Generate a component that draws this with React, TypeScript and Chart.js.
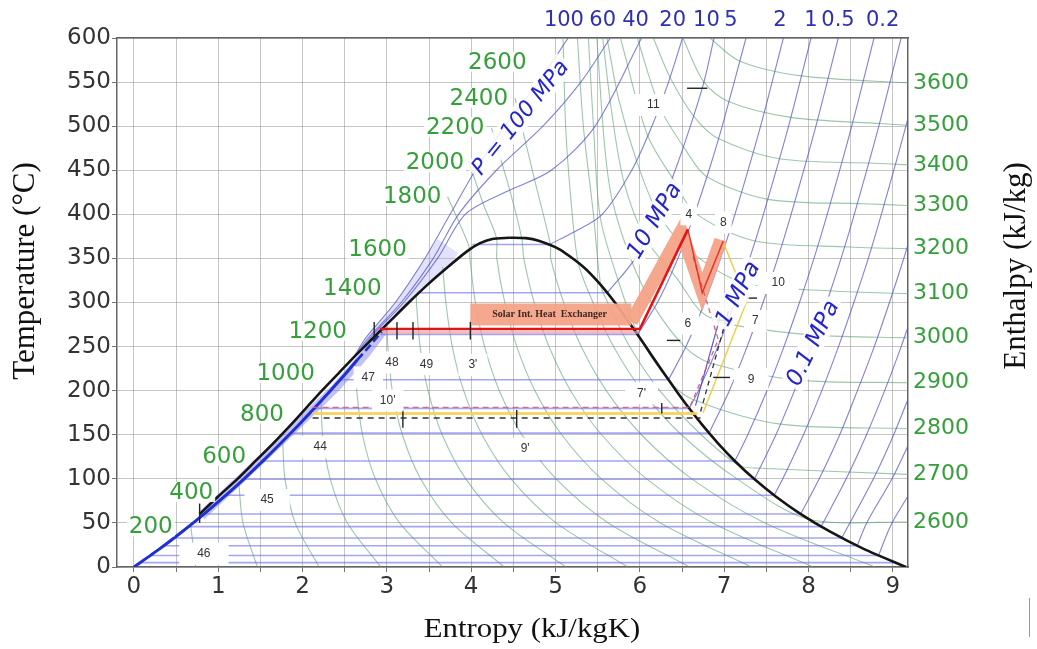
import React, { useEffect, useRef } from "react";
import { Chart, registerables } from "chart.js";

Chart.register(...registerables);

type Pt = [number, number];

// ---------- axes ----------
const entropyMin = -0.2;
const entropyMax = 9.18;
const tempMin = 0;
const tempMax = 600;
const entropyGridTicks = [0, 0.5, 1, 1.5, 2, 2.5, 3, 3.5, 4, 4.5, 5, 5.5, 6, 6.5, 7, 7.5, 8, 8.5, 9];
const enthalpyRightLabels = ["2600", "2700", "2800", "2900", "3000", "3100", "3200", "3300", "3400", "3500", "3600"];
const enthalpyRightT = [51, 105, 157, 209, 260, 310, 361, 410, 456, 501, 549];
const pressureTopLabels = ["100", "60", "40", "20", "10", "5", "2", "1", "0.5", "0.2"];
const pressureTopEntropy = [5.1, 5.56, 5.95, 6.39, 6.79, 7.08, 7.66, 8.03, 8.35, 8.88];

// ---------- saturation dome ----------
const domeLiquid: Pt[] = [[0.78, 60], [1.0, 80], [1.23, 100], [1.44, 120], [1.65, 140], [1.85, 160], [2.04, 180], [2.23, 200], [2.43, 220], [2.63, 240], [2.84, 260], [3.05, 280], [3.26, 300], [3.48, 320], [3.72, 340], [3.95, 358], [4.1, 367], [4.25, 372], [4.45, 373.5]];
const domeVapor: Pt[] = [[4.45, 373.5], [4.65, 373], [4.8, 370], [5.053, 360], [5.335, 340], [5.536, 320], [5.704, 300], [5.854, 280], [5.999, 260], [6.141, 240], [6.284, 220], [6.431, 200], [6.585, 180], [6.75, 160], [6.93, 140], [7.129, 120], [7.354, 100], [7.612, 80], [7.909, 60], [8.257, 40], [8.666, 20], [9.156, 0]];
const liquidBlue: Pt[] = [[0, 0], [0.297, 20], [0.572, 40], [0.831, 60], [1.075, 80], [1.307, 100], [1.528, 120], [1.739, 140], [1.943, 160], [2.14, 180], [2.331, 200], [2.518, 220], [2.65, 235]];
const liquidBlueDashed: Pt[] = [[2.65, 235], [2.79, 250], [2.94, 267]];
const liquidBand: Pt[] = [[0.8, 58], [1.27, 100], [1.84, 152], [2.38, 202], [2.75, 242], [2.97, 270]];
const compressedShade: Pt[] = [[2.62, 240], [2.75, 260], [3.1, 300], [3.45, 350], [3.6, 372], [3.85, 356], [3.72, 340], [3.48, 320], [3.26, 300], [3.05, 280], [2.84, 260], [2.63, 240]];

// ---------- wet-region isobars (T sat, s liquid, s vapour) ----------
const wetTemps = [5, 13, 24.1, 32.9, 45.8, 60.1, 81.3, 99.6, 120.2, 151.8, 179.9, 212.4, 263.9, 311.0, 365.8];
const wetSf = [0.076, 0.19, 0.35, 0.476, 0.649, 0.832, 1.091, 1.303, 1.53, 1.861, 2.139, 2.447, 2.921, 3.36, 4.014];
const wetSg = [9.025, 8.83, 8.578, 8.394, 8.149, 7.907, 7.593, 7.359, 7.127, 6.821, 6.586, 6.34, 5.973, 5.614, 4.927];

// ---------- superheated / supercritical isobars ----------
const isobar100: Pt[] = [[2.62, 240], [2.75, 260], [3.1, 300], [3.45, 350], [3.75, 400], [4.05, 450], [4.4, 500], [4.8, 550], [5.15, 600]];
const isobar60: Pt[] = [[2.66, 245], [2.8, 262], [3.17, 300], [3.55, 350], [3.85, 400], [4.3, 450], [4.85, 500], [5.3, 550], [5.65, 600]];
const isobar40: Pt[] = [[2.7, 248], [2.85, 265], [3.2, 300], [3.6, 350], [3.93, 400], [4.4, 425], [4.95, 450], [5.47, 500], [6.02, 600]];
const isobar20: Pt[] = [[4.927, 365.8], [5.22, 380], [5.554, 400], [5.904, 450], [6.143, 500], [6.34, 550], [6.506, 600]];
const isobar10: Pt[] = [[5.614, 311], [5.946, 350], [6.212, 400], [6.419, 450], [6.599, 500], [6.76, 550], [6.88, 600]];
const isobar5: Pt[] = [[5.973, 263.9], [6.209, 300], [6.451, 350], [6.647, 400], [6.82, 450], [6.977, 500], [7.259, 600]];
const isobar2: Pt[] = [[6.34, 212.4], [6.547, 250], [6.768, 300], [6.957, 350], [7.128, 400], [7.432, 500], [7.702, 600]];
const isobar1: Pt[] = [[6.586, 179.9], [6.695, 200], [6.926, 250], [7.124, 300], [7.302, 350], [7.465, 400], [7.764, 500], [8.03, 600]];
const isobar05: Pt[] = [[6.821, 151.8], [7.061, 200], [7.272, 250], [7.461, 300], [7.635, 350], [7.794, 400], [8.088, 500], [8.353, 600]];
const isobar02: Pt[] = [[7.127, 120.2], [7.28, 150], [7.507, 200], [7.709, 250], [7.893, 300], [8.065, 350], [8.222, 400], [8.513, 500], [8.777, 600]];
const isobar01: Pt[] = [[7.359, 99.6], [7.614, 150], [7.834, 200], [8.033, 250], [8.216, 300], [8.386, 350], [8.543, 400], [8.834, 500], [9.098, 600]];
const isobar005: Pt[] = [[7.593, 81.3], [7.695, 100], [7.94, 150], [8.158, 200], [8.356, 250], [8.538, 300], [8.709, 350], [8.864, 400], [9.155, 500], [9.42, 600]];
const isobar002: Pt[] = [[7.907, 60.1], [8.127, 100], [8.37, 150], [8.58, 200], [8.78, 250], [8.96, 300], [9.13, 350], [9.29, 400]];
const isobar001: Pt[] = [[8.149, 45.8], [8.447, 100], [8.688, 150], [8.903, 200], [9.099, 250], [9.28, 300]];
const isobar0005: Pt[] = [[8.394, 32.9], [8.77, 100], [9.01, 150], [9.22, 200]];
const isobar0003: Pt[] = [[8.578, 24.1], [8.69, 50], [8.99, 100], [9.24, 150]];
const isobar00015: Pt[] = [[8.83, 13], [8.99, 50], [9.31, 100]];

// ---------- isenthalps ----------
const h200: Pt[] = [[0.674, 47.7], [0.732, 0]];
const h400: Pt[] = [[1.244, 95.5], [1.294, 50], [1.465, 0]];
const h600: Pt[] = [[1.765, 142.5], [1.792, 100], [1.913, 50], [2.197, 0]];
const h800: Pt[] = [[2.219, 188.3], [2.238, 150], [2.328, 100], [2.532, 50], [2.929, 0]];
const h1000: Pt[] = [[2.629, 232], [2.643, 200], [2.711, 150], [2.864, 100], [3.151, 50], [3.661, 0]];
const h1200: Pt[] = [[3.004, 272.9], [3.012, 250], [3.065, 200], [3.184, 150], [3.4, 100], [3.77, 50], [4.393, 0]];
const h1400: Pt[] = [[3.35, 309.5], [3.351, 300], [3.394, 250], [3.488, 200], [3.656, 150], [3.936, 100], [4.388, 50], [5.125, 0]];
const h1600: Pt[] = [[3.662, 340.3], [3.7, 300], [3.776, 250], [3.911, 200], [4.129, 150], [4.472, 100], [5.007, 50], [5.857, 0]];
const h1800: Pt[] = [[3.72, 420], [3.86, 390], [3.976, 363], [3.985, 350], [4.049, 300], [4.159, 250], [4.334, 200], [4.602, 150], [5.007, 100], [5.626, 50], [6.59, 0]];
const h2000: Pt[] = [[3.97, 460], [4.15, 410], [4.3, 373.3], [4.304, 350], [4.398, 300], [4.541, 250], [4.756, 200], [5.074, 150], [5.544, 100], [6.245, 50], [7.322, 0]];
const h2200: Pt[] = [[4.24, 498], [4.45, 430], [4.6, 372.7], [4.624, 350], [4.747, 300], [4.923, 250], [5.179, 200], [5.547, 150], [6.08, 100], [6.864, 50], [8.054, 0]];
const h2400: Pt[] = [[4.52, 532], [4.75, 440], [4.94, 365.5], [4.943, 350], [5.096, 300], [5.305, 250], [5.602, 200], [6.019, 150], [6.616, 100], [7.483, 50], [8.786, 0]];
const h2600: Pt[] = [[5.09, 600], [5.12, 500], [5.18, 420], [5.27, 345], [5.445, 300], [5.688, 250], [6.025, 200], [6.493, 150], [7.152, 100], [7.99, 54.5], [9.2, 51]];
const h2700: Pt[] = [[5.26, 600], [5.33, 500], [5.45, 400], [5.536, 320], [5.619, 300], [5.879, 250], [6.236, 200], [6.728, 150], [7.18, 115], [7.43, 112], [9.2, 105]];
const h2800: Pt[] = [[5.39, 600], [5.45, 500], [5.53, 397], [5.74, 326], [5.98, 264], [6.34, 212], [6.63, 190], [7.67, 162], [9.2, 157]];
const h2900: Pt[] = [[5.49, 600], [5.58, 480], [5.67, 417], [5.91, 345], [6.17, 295], [6.54, 249], [6.84, 231], [7.88, 212], [9.2, 209]];
const h3000: Pt[] = [[5.56, 600], [5.66, 520], [5.81, 437], [6.07, 372], [6.45, 326], [6.72, 290], [7.03, 276], [8.08, 263], [9.2, 260]];
const h3100: Pt[] = [[5.61, 600], [5.75, 530], [5.96, 461], [6.21, 402], [6.55, 362], [7.21, 323], [8.29, 313], [9.2, 310]];
const h3200: Pt[] = [[5.77, 600], [6.09, 490], [6.42, 436], [6.65, 402], [7.35, 370], [8.49, 363], [9.2, 361]];
const h3300: Pt[] = [[5.97, 600], [6.24, 521], [6.55, 472], [6.79, 443], [7.52, 417], [8.65, 412], [9.2, 410]];
const h3400: Pt[] = [[6.16, 600], [6.36, 555], [6.65, 510], [6.93, 486], [7.66, 463], [8.78, 458], [9.2, 456]];
const h3500: Pt[] = [[6.51, 600], [6.76, 550], [7.05, 528], [7.79, 510], [8.85, 503], [9.2, 501]];
const h3600: Pt[] = [[6.83, 600], [7.18, 574], [7.92, 557], [9.2, 549]];

// ---------- cycle ----------
const redCycle: Pt[] = [[2.92, 270], [6.0, 270], [6.57, 383]];
const redThin: Pt[] = [[6.57, 383], [6.74, 311], [6.99, 370]];
const salmonBox: Pt[] = [[3.99, 286.5], [5.9, 286.5]];
const salmonBand: Pt[] = [[5.9, 278], [6.49, 381], [6.74, 312], [6.96, 371]];
const yellowPath: Pt[] = [[6.99, 368], [7.27, 302], [6.75, 175]];
const pinkDashedPath: Pt[] = [[6.63, 352], [6.93, 258], [6.6, 183]];
const blueThinPath: Pt[] = [[6.97, 290], [6.66, 183]];
const blackDashedPath: Pt[] = [[7.05, 290], [6.72, 176]];
const pinkDashedLevel: Pt[] = [[2.12, 181], [6.62, 181]];
const yellowLevel: Pt[] = [[2.12, 174], [6.68, 174]];
const blackDashedLevel: Pt[] = [[2.12, 169], [6.72, 169]];
const redShadow: Pt[] = [[2.95, 266], [5.98, 266]];

// small marks
const vMarkS = [2.85, 3.12, 3.31, 3.99, 3.19, 4.54, 6.26, 0.78];
const vMarkLow = [258, 258, 258, 258, 158, 158, 174, 50];
const vMarkHigh = [278, 278, 278, 278, 178, 178, 186, 72];
const hMarkS1 = [6.56, 6.32, 7.27, 6.87, 6.92];
const hMarkS2 = [6.8, 6.48, 7.39, 7.07, 7.1];
const hMarkT = [543, 257, 305, 215, 280];

// ---------- text annotations ----------
const pointLabelText = ["11", "4", "8", "10", "6", "7", "9", "7'", "3'", "49", "48", "47", "10'", "44", "9'", "45", "46"];
const pointLabelS = [6.16, 6.58, 6.99, 7.64, 6.57, 7.37, 7.32, 6.02, 4.02, 3.47, 3.06, 2.78, 3.01, 2.21, 4.64, 1.58, 0.83];
const pointLabelT = [524, 400, 391, 322, 276, 279, 213, 197, 229, 230, 232, 215, 189, 136, 134, 76, 15];
const pointLabelPad = [14, 5, 5, 14, 8, 8, 14, 12, 10, 8, 8, 8, 8, 16, 16, 16, 18];

const enthalpyNoteText = ["200", "400", "600", "800", "1000", "1200", "1400", "1600", "1800", "2000", "2200", "2400", "2600"];
const enthalpyNoteS = [0.2, 0.68, 1.07, 1.52, 1.8, 2.18, 2.59, 2.89, 3.3, 3.57, 3.81, 4.09, 4.31];
const enthalpyNoteT = [46, 85, 126, 174, 220, 268, 316, 361, 421, 459, 499, 532, 573];

const pressureNoteText = ["P = 100 MPa", "10 MPa", "1 MPa", "0.1 MPa"];
const pressureNoteS = [4.58, 6.17, 7.16, 8.05];
const pressureNoteT = [510, 393, 310, 254];
const pressureNoteAngle = [-51, -59, -62, -64];
const pressureNoteSize = [22, 23, 23, 23];

const solarText = "Solar Int. Heat  Exchanger";
const solarS = 4.93;
const solarT = 286;

// ---------- colours ----------
const GRID = "rgba(140,140,140,0.5)";
const ISOBAR = "rgba(80,80,205,0.72)";
const WETBAR = "rgba(110,110,232,0.62)";
const ISENTH = "rgba(95,160,115,0.6)";
const GREEN_TXT = "#35a03a";
const BLUE_TXT = "#2424cc";
const TOP_BLUE = "#3030b4";

function line(points: Pt[], color: string, width: number, order: number, extra: any = {}) {
  return {
    data: points.map(([s, t]) => ({ x: s, y: t })),
    showLine: true,
    borderColor: color,
    backgroundColor: color,
    borderWidth: width,
    pointRadius: 0,
    pointHoverRadius: 0,
    fill: false,
    tension: 0,
    order,
    ...extra,
  };
}

const overlayPlugin = {
  id: "overlay",
  afterDatasetsDraw(chart: any) {
    const { ctx, chartArea, scales } = chart;
    const xs = scales.x;
    const ys = scales.y;
    ctx.save();
    ctx.beginPath();
    ctx.rect(chartArea.left, chartArea.top, chartArea.right - chartArea.left, chartArea.bottom - chartArea.top);
    ctx.clip();
    ctx.textAlign = "center";
    ctx.textBaseline = "middle";

    ctx.font = "bold 10px 'Liberation Serif', 'Times New Roman', serif";
    ctx.fillStyle = "#3a2a22";
    ctx.fillText(solarText, xs.getPixelForValue(solarS), ys.getPixelForValue(solarT));

    ctx.font = "12px 'Liberation Sans', Arial, sans-serif";
    pointLabelText.forEach((t, i) => {
      const px = xs.getPixelForValue(pointLabelS[i]);
      const py = ys.getPixelForValue(pointLabelT[i]);
      const w = ctx.measureText(t).width + 2 * pointLabelPad[i];
      const h = 22;
      ctx.fillStyle = "#ffffff";
      ctx.fillRect(px - w / 2, py - h / 2, w, h);
      ctx.fillStyle = "#333333";
      ctx.fillText(t, px, py);
    });

    ctx.font = "23px 'DejaVu Sans', sans-serif";
    enthalpyNoteText.forEach((t, i) => {
      const px = xs.getPixelForValue(enthalpyNoteS[i]);
      const py = ys.getPixelForValue(enthalpyNoteT[i]);
      const w = ctx.measureText(t).width + 4;
      ctx.fillStyle = "rgba(255,255,255,0.9)";
      ctx.fillRect(px - w / 2, py - 10, w, 20);
      ctx.fillStyle = GREEN_TXT;
      ctx.fillText(t, px, py + 1);
    });

    pressureNoteText.forEach((t, i) => {
      const px = xs.getPixelForValue(pressureNoteS[i]);
      const py = ys.getPixelForValue(pressureNoteT[i]);
      ctx.save();
      ctx.translate(px, py);
      ctx.rotate((pressureNoteAngle[i] * Math.PI) / 180);
      ctx.font = `italic ${pressureNoteSize[i]}px 'DejaVu Sans', sans-serif`;
      const w = ctx.measureText(t).width;
      ctx.fillStyle = "rgba(255,255,255,0.85)";
      ctx.fillRect(-w / 2 - 3, -12, w + 6, 24);
      ctx.fillStyle = BLUE_TXT;
      ctx.fillText(t, 0, 1);
      ctx.restore();
    });
    ctx.restore();
  },
  afterDraw(chart: any) {
    const { ctx } = chart;
    ctx.save();
    ctx.fillStyle = "#111";
    ctx.textAlign = "center";
    ctx.textBaseline = "middle";
    ctx.font = "31px 'Liberation Serif', 'Times New Roman', serif";
    ctx.save();
    ctx.translate(26, 271);
    ctx.rotate(-Math.PI / 2);
    ctx.fillText("Temperature (\u00B0C)", 0, 0);
    ctx.restore();
    ctx.save();
    ctx.translate(1017, 266);
    ctx.rotate(-Math.PI / 2);
    ctx.fillText("Enthalpy (kJ/kg)", 0, 0);
    ctx.restore();
    ctx.save();
    ctx.translate(532, 630);
    ctx.scale(1.1, 1);
    ctx.font = "28px 'Liberation Serif', 'Times New Roman', serif";
    ctx.fillText("Entropy (kJ/kgK)", 0, 0);
    ctx.restore();
    ctx.strokeStyle = "#999";
    ctx.lineWidth = 1;
    ctx.beginPath();
    ctx.moveTo(1029.5, 598);
    ctx.lineTo(1029.5, 637);
    ctx.stroke();
    ctx.restore();
  },
};

export default function App() {
  const ref = useRef<HTMLCanvasElement>(null);

  useEffect(() => {
    const canvas = ref.current;
    if (!canvas) return;

    const isenthalps = [h200, h400, h600, h800, h1000, h1200, h1400, h1600, h1800, h2000, h2200, h2400, h2600, h2700, h2800, h2900, h3000, h3100, h3200, h3300, h3400, h3500, h3600];
    const isobars = [isobar100, isobar60, isobar40, isobar20, isobar10, isobar5, isobar2, isobar1, isobar05, isobar02, isobar01, isobar005, isobar002, isobar001, isobar0005, isobar0003, isobar00015];

    const datasets: any[] = [];
    isenthalps.forEach((p) => datasets.push(line(p, ISENTH, 1.1, 60, { tension: 0.3 })));
    wetTemps.forEach((t, i) => datasets.push(line([[wetSf[i], t], [wetSg[i], t]], WETBAR, 1.6, 55)));
    datasets.push(line(compressedShade, "rgba(0,0,0,0)", 0, 52, { fill: "shape", backgroundColor: "rgba(150,150,240,0.28)" }));
    isobars.forEach((p) => datasets.push(line(p, ISOBAR, 1.1, 50, { tension: 0.3 })));
    datasets.push(line(liquidBand, "rgba(120,120,235,0.45)", 9, 40));
    datasets.push(line(liquidBlue, "#1f2fd0", 3, 35, { tension: 0.2 }));
    datasets.push(line(liquidBlueDashed, "#1f2fd0", 2.5, 35, { borderDash: [8, 4] }));
    datasets.push(line(domeLiquid, "#151515", 2.6, 30, { tension: 0.2 }));
    datasets.push(line(domeVapor, "#151515", 2.6, 30, { tension: 0.2 }));
    datasets.push(line(yellowLevel, "rgba(245,210,90,0.9)", 3, 26));
    datasets.push(line(pinkDashedLevel, "rgba(220,90,140,0.9)", 1.4, 25, { borderDash: [6, 4] }));
    datasets.push(line(blackDashedLevel, "#333", 1.4, 25, { borderDash: [6, 5] }));
    datasets.push(line(redShadow, "rgba(240,160,170,0.7)", 3, 24));
    datasets.push(line(salmonBox, "rgba(244,163,135,0.95)", 22, 20, { borderCapStyle: "butt" }));
    datasets.push(line(salmonBand, "rgba(244,163,135,0.95)", 13, 20, { borderJoinStyle: "miter", borderCapStyle: "butt" }));
    datasets.push(line(yellowPath, "rgba(240,200,60,0.95)", 1.4, 15));
    datasets.push(line(pinkDashedPath, "rgba(220,80,120,0.9)", 1.3, 15, { borderDash: [5, 4] }));
    datasets.push(line(blueThinPath, "rgba(70,70,220,0.9)", 1.2, 15));
    datasets.push(line(blackDashedPath, "#333", 1.3, 15, { borderDash: [5, 4] }));
    datasets.push(line(redThin, "rgba(225,40,40,0.9)", 1.5, 12));
    datasets.push(line(redCycle, "#e01515", 2.6, 10));
    vMarkS.forEach((s, i) => datasets.push(line([[s, vMarkLow[i]], [s, vMarkHigh[i]]], "#222", 1.4, 5)));
    hMarkS1.forEach((s, i) => datasets.push(line([[s, hMarkT[i]], [hMarkS2[i], hMarkT[i]]], "#222", 1.4, 5)));

    const numFont = { family: "'DejaVu Sans', sans-serif", size: 23 };

    const chart = new Chart(canvas, {
      type: "scatter",
      data: { datasets },
      options: {
        animation: false,
        responsive: false,
        maintainAspectRatio: false,
        layout: { padding: 0 },
        events: [],
        plugins: { legend: { display: false }, tooltip: { enabled: false }, title: { display: false } },
        scales: {
          x: {
            type: "linear",
            position: "bottom",
            min: entropyMin,
            max: entropyMax,
            afterBuildTicks: (axis: any) => {
              axis.ticks = entropyGridTicks.map((v) => ({ value: v }));
            },
            afterFit: (axis: any) => {
              axis.height = 82;
            },
            ticks: {
              autoSkip: false,
              maxRotation: 0,
              minRotation: 0,
              padding: 1,
              color: "#333",
              font: numFont,
              callback: (v: any) => (Number.isInteger(v) ? String(v) : ""),
            },
            grid: { color: GRID, lineWidth: 1, tickLength: 5, tickColor: "#777" },
            border: { display: true, color: "#666", width: 1.5 },
          },
          x2: {
            type: "linear",
            position: "top",
            min: entropyMin,
            max: entropyMax,
            afterBuildTicks: (axis: any) => {
              axis.ticks = pressureTopEntropy.map((v) => ({ value: v }));
            },
            afterFit: (axis: any) => {
              axis.height = 38;
            },
            ticks: {
              autoSkip: false,
              maxRotation: 0,
              minRotation: 0,
              padding: 5,
              color: TOP_BLUE,
              font: { family: "'DejaVu Sans', sans-serif", size: 21 },
              callback: (_v: any, i: number) => pressureTopLabels[i],
            },
            grid: { display: true, drawOnChartArea: false, drawTicks: false },
            border: { display: true, color: "#666", width: 1.5 },
          },
          y: {
            type: "linear",
            position: "left",
            min: tempMin,
            max: tempMax,
            afterFit: (axis: any) => {
              axis.width = 117;
            },
            ticks: {
              stepSize: 50,
              autoSkip: false,
              padding: 1,
              color: "#333",
              font: numFont,
              callback: (v: any) => String(v),
            },
            grid: { color: GRID, lineWidth: 1, tickLength: 5, tickColor: "#777" },
            border: { display: true, color: "#666", width: 1.5 },
          },
          y2: {
            type: "linear",
            position: "right",
            min: tempMin,
            max: tempMax,
            afterBuildTicks: (axis: any) => {
              axis.ticks = enthalpyRightT.map((v) => ({ value: v }));
            },
            afterFit: (axis: any) => {
              axis.width = 129;
            },
            ticks: {
              autoSkip: false,
              padding: 5,
              color: GREEN_TXT,
              font: { family: "'DejaVu Sans', sans-serif", size: 22 },
              callback: (_v: any, i: number) => enthalpyRightLabels[i],
            },
            grid: { display: true, drawOnChartArea: false, drawTicks: false },
            border: { display: true, color: "#666", width: 1.5 },
          },
        },
      } as any,
      plugins: [overlayPlugin],
    });

    return () => chart.destroy();
  }, []);

  return (
    <div style={{ position: "absolute", left: 0, top: 0, width: 1037, height: 649, background: "#ffffff" }}>
      <canvas ref={ref} width={1037} height={649} style={{ width: 1037, height: 649, display: "block" }} />
    </div>
  );
}
